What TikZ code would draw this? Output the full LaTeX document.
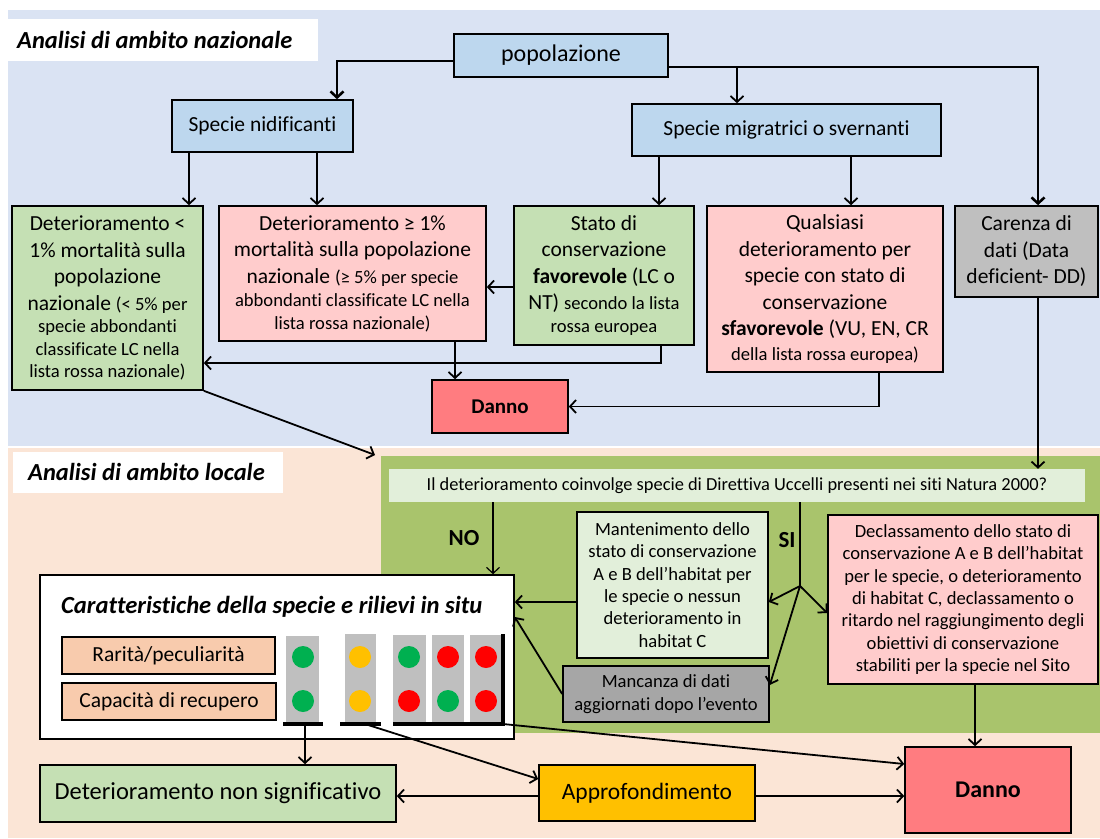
\documentclass[tikz,border=0pt]{standalone}
\usepackage{fontspec}
\setmainfont{Carlito}[Ligatures=NoCommon]
\usetikzlibrary{arrows.meta}

\definecolor{bgblue}{HTML}{DAE3F3}
\definecolor{bgpeach}{HTML}{FBE5D6}
\definecolor{olive}{HTML}{A9C46C}
\definecolor{boxblue}{HTML}{BDD7EE}
\definecolor{boxgreen}{HTML}{C5E0B4}
\definecolor{boxpink}{HTML}{FFCCCC}
\definecolor{dannored}{HTML}{FF7C80}
\definecolor{greyA}{HTML}{BFBFBF}
\definecolor{greyB}{HTML}{A6A6A6}
\definecolor{palegreen}{HTML}{E2EFDA}
\definecolor{salmon}{HTML}{F8CBAD}
\definecolor{amber}{HTML}{FFC000}
\definecolor{tlgreen}{HTML}{00B050}
\definecolor{tlred}{HTML}{FF0000}

\newcommand\fbig{\fontsize{21.5}{26.5}\selectfont}
\newcommand\fsm{\fontsize{18.6}{22.4}\selectfont}
\newcommand\fpop{\fontsize{24}{29}\selectfont}
\newcommand\fLg{\fontsize{24.5}{30}\selectfont}

\begin{document}
\begin{tikzpicture}[x=1pt,y=-1pt,
  bx/.style={draw=black, line width=1.6pt, inner sep=0pt, align=center, font=\fbig},
  sbx/.style={bx, font=\fsm},
  arr/.style={line width=1.8pt, -{Straight Barb[length=6pt,width=13pt]}},
  thickarr/.style={line width=2.6pt, -{Straight Barb[length=6pt,width=13pt]}},
  plain/.style={line width=1.8pt},
  lbl/.style={inner sep=0pt, anchor=base west, font=\fLg\bfseries\itshape},
  light/.style={fill=greyA, draw=none}]

\useasboundingbox (0,0) rectangle (1100,838);
\fill[white] (0,0) rectangle (1100,838);

% section backgrounds
\fill[bgblue] (8,10) rectangle (1100,446);
\fill[bgpeach] (8,448) rectangle (1100,838);
\fill[olive] (381,456) rectangle (1100,733);
\fill[white] (8,19) rectangle (318,61);
\fill[white] (13,452) rectangle (283,493);
\node[lbl] (tN) at (17,48) {Analisi di ambito nazionale};
\node[lbl] (tL) at (28,480) {Analisi di ambito locale};

% national level
\node[bx, fill=boxblue, minimum width=214pt, minimum height=43pt, font=\fpop] (pop) at (561,55.5) {popolazione};
\node[bx, fill=boxblue, minimum width=181pt, minimum height=52pt] (nid) at (262.5,126) {Specie nidificanti};
\node[bx, fill=boxblue, minimum width=309pt, minimum height=52pt] (mig) at (786.5,130) {Specie migratrici o svernanti};

\node[bx, fill=boxgreen, minimum width=191pt, minimum height=184pt] (detlow) at (107.5,298)
  {Deterioramento <\\ 1\% mortalità sulla\\ popolazione\\ nazionale {\fsm(< 5\% per}\\[-4pt]
   {\fsm specie abbondanti}\\[-4pt] {\fsm classificate LC nella}\\[-4pt] {\fsm lista rossa nazionale)}};
\node[bx, fill=boxpink, minimum width=267pt, minimum height=135pt] (dethigh) at (352.5,273.5)
  {Deterioramento ≥ 1\%\\ mortalità sulla popolazione\\ nazionale {\fsm(≥ 5\% per specie}\\[-3pt]
   {\fsm abbondanti classificate LC nella}\\[-4pt] {\fsm lista rossa nazionale)}};
\node[bx, fill=boxgreen, minimum width=180pt, minimum height=139pt] (stato) at (604,275.5)
  {Stato di\\ conservazione\\ \textbf{favorevole} (LC o\\ NT) {\fsm secondo la lista}\\[-4pt] {\fsm rossa europea}};
\node[bx, fill=boxpink, minimum width=236pt, minimum height=166pt] (quals) at (825,289)
  {Qualsiasi\\ deterioramento per\\ specie con stato di\\ conservazione\\ \textbf{sfavorevole} (VU, EN, CR\\[-2pt] {\fsm della lista rossa europea)}};
\node[bx, fill=greyA, minimum width=143pt, minimum height=91pt] (carenza) at (1026.5,251.5)
  {Carenza di\\ dati (Data\\ deficient- DD)};
\node[bx, fill=dannored, minimum width=136pt, minimum height=53pt, font=\fontsize{21}{25}\selectfont\bfseries] (danno1) at (500,406.5) {Danno};

% local level
\node[inner sep=0pt, fill=palegreen, minimum width=696pt, minimum height=33pt, font=\fontsize{18.4}{22}\selectfont] (question) at (737,485.5)
  {Il deterioramento coinvolge specie di Direttiva Uccelli presenti nei siti Natura 2000?};
\node[sbx, fill=palegreen, minimum width=191pt, minimum height=146pt] (mant) at (672.5,585)
  {Mantenimento dello\\ stato di conservazione\\ A e B dell’habitat per\\ le specie o nessun\\ deterioramento in\\ habitat C};
\node[sbx, fill=boxpink, minimum width=270pt, minimum height=169pt] (decl) at (963,599.5)
  {Declassamento dello stato di\\ conservazione A e B dell’habitat\\ per le specie, o deterioramento\\ di habitat C, declassamento o\\ ritardo nel raggiungimento degli\\ obiettivi di conservazione\\ stabiliti per la specie nel Sito};
\node[sbx, fill=greyB, minimum width=206pt, minimum height=56pt] (manc) at (666,694)
  {Mancanza di dati\\ aggiornati dopo l’evento};
\node[font=\fontsize{23}{27}\selectfont\bfseries, inner sep=0pt] (no) at (464,538) {NO};
\node[font=\fontsize{23}{27}\selectfont\bfseries, inner sep=0pt] (si) at (787,540) {SI};

\node[bx, fill=white, minimum width=474pt, minimum height=164pt] (carat) at (277,657) {};
\node[lbl, font=\fontsize{24.6}{29}\selectfont\bfseries\itshape] (caratT) at (61,613) {Caratteristiche della specie e rilievi in situ};
\node[bx, fill=salmon, minimum width=213pt, minimum height=37pt, line width=1.2pt] (rar) at (168.5,655.5) {Rarità/peculiarità};
\node[bx, fill=salmon, minimum width=214pt, minimum height=37pt, line width=1.2pt] (cap) at (169,701.5) {Capacità di recupero};

% traffic lights
\fill[light] (286,636) rectangle (319,722);
\fill[light] (345,634) rectangle (376,723);
\fill[light] (393,635) rectangle (426,722);
\fill[light] (432,635) rectangle (464,722);
\fill[light] (470,635) rectangle (502,722);
\fill[tlgreen] (303,657) circle (11);
\fill[tlgreen] (303,701) circle (11);
\fill[amber] (360,657) circle (11);
\fill[amber] (360,701) circle (11);
\fill[tlgreen] (409,657) circle (11);
\fill[tlred] (409,701) circle (11);
\fill[tlred] (448,657) circle (11);
\fill[tlgreen] (448,701) circle (11);
\fill[tlred] (486,657) circle (11);
\fill[tlred] (486,701) circle (11);
\draw[line width=3.5pt] (283,724) -- (323,724);
\draw[line width=3.5pt] (340,724) -- (381,724);
\draw[line width=3.5pt] (393,724) -- (503,724) -- (503,634);
\coordinate (b1) at (305,724);
\coordinate (b2) at (365,724);
\coordinate (b3) at (503,724);

\node[bx, fill=boxgreen, minimum width=356pt, minimum height=57pt, font=\fLg] (detns) at (218,793.5) {Deterioramento non significativo};
\node[bx, fill=amber, minimum width=216pt, minimum height=56pt, font=\fontsize{23.5}{28}\selectfont] (appr) at (647,793) {Approfondimento};
\node[bx, fill=dannored, minimum width=166pt, minimum height=86pt, font=\fontsize{24}{29}\selectfont\bfseries] (danno2) at (988,790) {Danno};

% connectors, national level
\coordinate (j1) at (737,67);
\draw[thickarr] ([yshift=-5.5pt]pop.west) -| ([xshift=74.5pt]nid.north);
\draw[thickarr] ([yshift=-11.5pt]pop.east) -| ([xshift=11.5pt]carenza.north);
\draw[arr] (j1) -- (j1 |- mig.north);
\draw[arr] ([xshift=-73.5pt]nid.south) -- ([xshift=81.5pt]detlow.north);
\draw[arr] ([xshift=54.5pt]nid.south) -- ([xshift=-35.5pt]dethigh.north);
\draw[arr] ([xshift=-127.5pt]mig.south) -- ([xshift=55pt]stato.north);
\draw[arr] ([xshift=64.5pt]mig.south) -- ([xshift=26pt]quals.north);
\draw[arr] ([yshift=-11.5pt]stato.west) -- ([yshift=-11.5pt]stato.west -| dethigh.east);
\draw[arr] ([xshift=57pt]stato.south) |- ([yshift=-65pt]detlow.east);
\draw[arr] ([xshift=102.5pt]dethigh.south) -- ([xshift=-45pt]danno1.north);
\draw[arr] ([xshift=54pt]quals.south) |- (danno1.east);
\draw[arr] ([xshift=11.5pt]carenza.south) -- ([xshift=301pt]question.north);
\coordinate (k1) at (375,455);
\draw[arr] (detlow.south east) -- (k1);

% connectors, local level
\coordinate (fk) at (800,586);
\draw[line width=1.2pt, -{Straight Barb[length=6pt,width=13pt]}] ([xshift=-244pt]question.south) -- ([xshift=216pt]carat.north);
\draw[plain] ([xshift=63pt]question.south) -- (fk);
\draw[arr] (fk) -- ([yshift=-17pt]mant.east);
\draw[arr] (fk) -- ([yshift=-13.5pt]decl.west);
\draw[arr] (fk) -- ([yshift=9pt]manc.east);
\draw[arr] ([yshift=-17pt]mant.west) -- ([yshift=-17pt]mant.west -| carat.east);
\draw[arr] (manc.west) -- ([yshift=40pt]carat.east);
\draw[arr] ([xshift=12pt]decl.south) -- ([xshift=-13pt]danno2.north);
\draw[arr] (b1) -- ([xshift=87pt]detns.north);
\draw[arr] (b2) -- ([yshift=14pt]appr.west);
\draw[arr] (b3) -- ([yshift=26pt]danno2.west);
\draw[arr] ([yshift=-3pt]appr.west) -- ([yshift=-3pt]appr.west -| detns.east);
\draw[arr] ([yshift=-3pt]appr.east) -- ([yshift=-3pt]appr.east -| danno2.west);
\end{tikzpicture}
\end{document}
